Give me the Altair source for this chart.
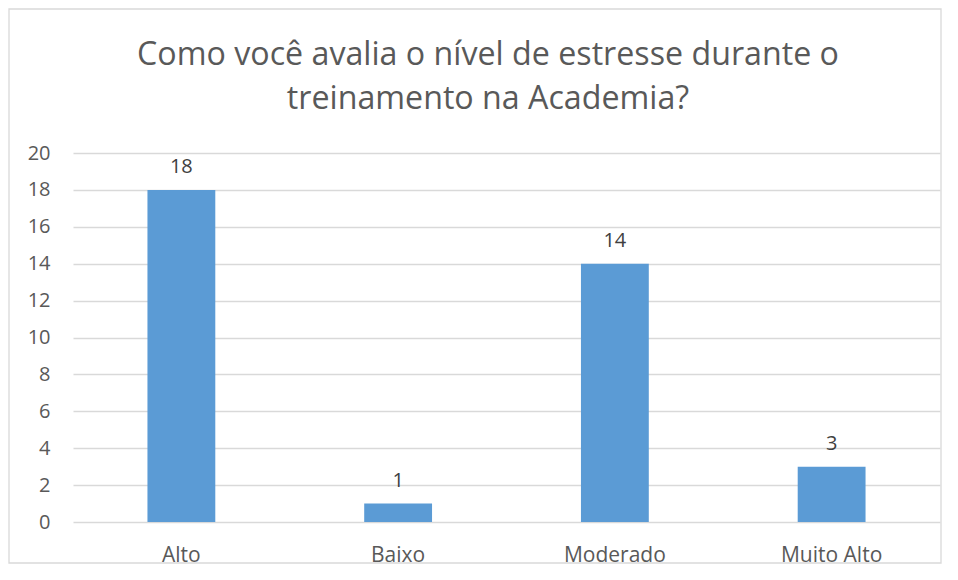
import altair as alt
import pandas as pd

categories = ["Alto", "Baixo", "Moderado", "Muito Alto"]
values = [18, 1, 14, 3]
title_lines = ["Como você avalia o nível de estresse durante o", "treinamento na Academia?"]
y_ticks = [0, 2, 4, 6, 8, 10, 12, 14, 16, 18, 20]

df = pd.DataFrame({"cat": categories, "val": values})
one = pd.DataFrame({"k": [0]})

FONT = "Open Sans"
GRID = "#D9D9D9"
TXT = "#595959"

base = alt.Chart(df).encode(
    x=alt.X("cat:N", sort=categories,
            scale=alt.Scale(paddingInner=0.687, paddingOuter=0.3435),
            axis=alt.Axis(title=None, labelAngle=0, ticks=False, domain=False,
                          labelFont=FONT, labelFontSize=21, labelColor=TXT,
                          labelBaseline="alphabetic", labelPadding=39, grid=False)),
    y=alt.Y("val:Q", scale=alt.Scale(domain=[0, 20], nice=False),
            axis=alt.Axis(title=None, values=y_ticks, ticks=False, domain=False,
                          labelFont=FONT, labelFontSize=20, labelColor=TXT,
                          labelPadding=23, gridColor=GRID, gridWidth=1.3)),
)

bars = base.mark_bar(color="#5B9BD5")
labels = base.mark_text(dy=-17, baseline="alphabetic", font=FONT, fontSize=20,
                        color="#404040").encode(text="val:Q")

border = alt.Chart(one).mark_rect(fill=None, stroke=GRID, strokeWidth=1.3).encode(
    x=alt.value(-64), x2=alt.value(868), y=alt.value(-144), y2=alt.value(410))

title1 = alt.Chart(one).mark_text(font=FONT, fontSize=32.2, color=TXT,
                                  baseline="alphabetic", align="center").encode(
    x=alt.value(415), y=alt.value(-88), text=alt.value(title_lines[0]))
title2 = alt.Chart(one).mark_text(font=FONT, fontSize=32.2, color=TXT,
                                  baseline="alphabetic", align="center").encode(
    x=alt.value(415), y=alt.value(-44), text=alt.value(title_lines[1]))

chart = alt.layer(border, bars, labels, title1, title2).properties(
    width=867, height=369,
    autosize=alt.AutoSizeParams(type="none"),
    padding={"left": 65, "top": 145, "right": 10, "bottom": 48},
).configure_view(stroke=None)

chart.save("out.html", embed_options={"renderer": "svg", "actions": False})
